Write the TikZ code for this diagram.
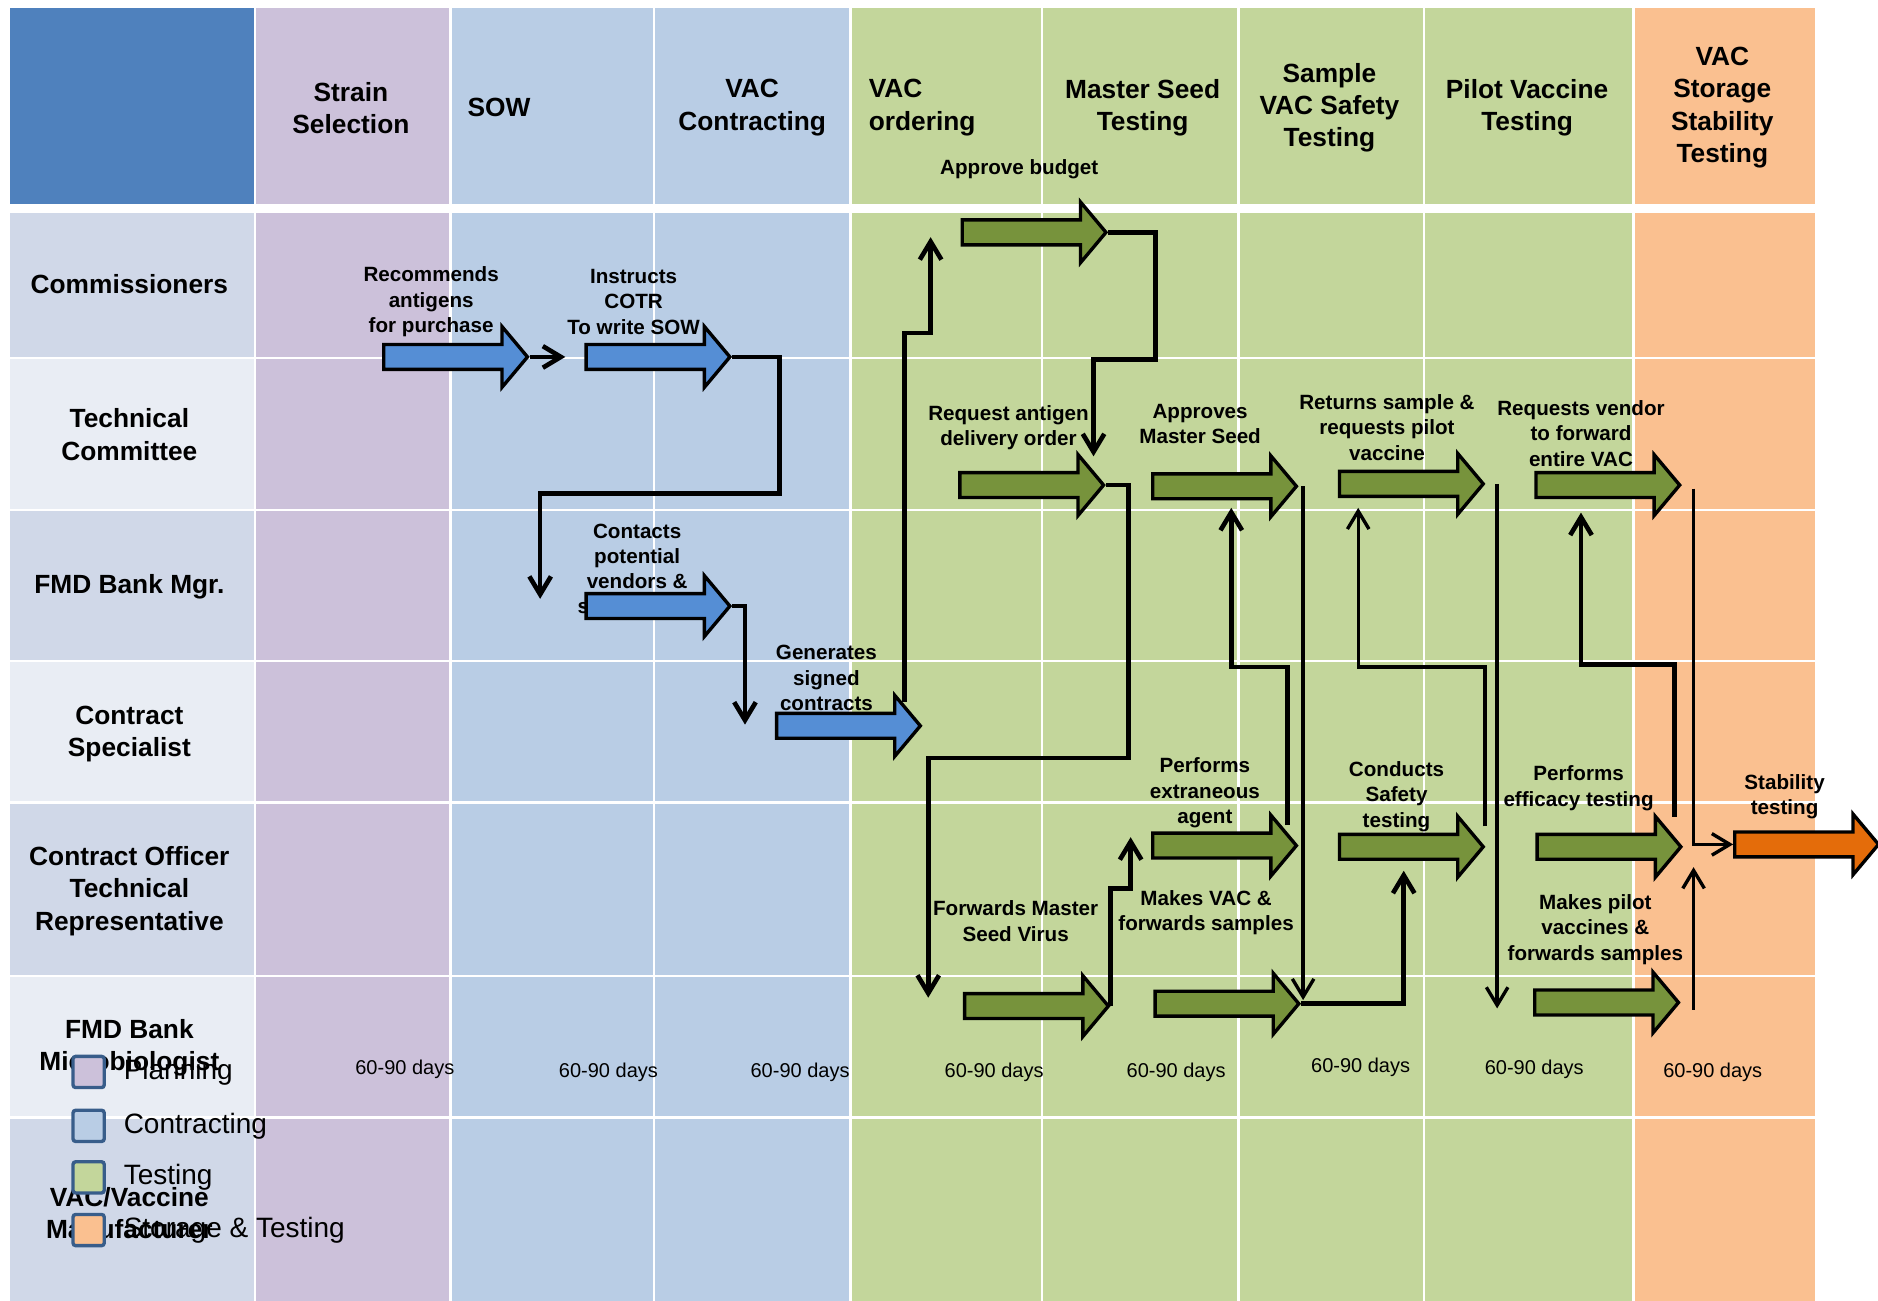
\documentclass[tikz,border=0pt]{standalone}
\usepackage{fontspec}
\setmainfont{Liberation Sans}
\usetikzlibrary{shapes.arrows,arrows.meta}

\definecolor{hdrblue}{HTML}{4F81BD}
\definecolor{plan}{HTML}{CCC1DA}
\definecolor{contr}{HTML}{B9CDE5}
\definecolor{test}{HTML}{C3D69B}
\definecolor{stor}{HTML}{FAC090}
\definecolor{rowdark}{HTML}{D0D8E8}
\definecolor{rowlight}{HTML}{E9EDF4}
\definecolor{arrblue}{HTML}{558ED5}
\definecolor{arrgreen}{HTML}{77933C}
\definecolor{arrorange}{HTML}{E46C0A}
\definecolor{legborder}{HTML}{385D8A}

\tikzset{
  stepbox/.style={single arrow, draw=black, line width=1.6pt, minimum height=24mm,
    inner xsep=0pt, inner ysep=1.8mm, single arrow head extend=3mm,
    single arrow tip angle=100, anchor=tail},
  bluestep/.style={stepbox, fill=arrblue},
  greenstep/.style={stepbox, fill=arrgreen},
  orangestep/.style={stepbox, fill=arrorange},
  conn/.style={line width=2.2pt, -{Straight Barb[length=3mm,width=3.6mm]}},
  thinconn/.style={conn, line width=1.6pt},
  act/.style={font=\bfseries\fontsize{9.8}{12}\selectfont, align=center, inner sep=0pt},
  hdr/.style={font=\bfseries\fontsize{12.5}{15.4}\selectfont, align=center, inner sep=0pt},
  days/.style={font=\fontsize{9.5}{11}\selectfont, inner sep=0pt},
  legbox/.style={draw=legborder, line width=1.6pt, rounded corners=1.2pt, minimum size=5.2mm, inner sep=0pt},
  legtext/.style={font=\fontsize{13.3}{16}\selectfont, anchor=west, inner sep=0pt}
}

\begin{document}
\begin{tikzpicture}[x=0.2mm, y=-0.2mm]
\useasboundingbox (0,0) rectangle (1568,1086);

% phase columns
\foreach \xa/\xb/\col in {214/375/plan, 377/545/contr, 547/709/contr, 711/869/test,
  871/1033/test, 1035/1188/test, 1190/1363/test, 1365/1515/stor}
{
    \foreach \ya/\yb in {7/170, 178/298, 300/425, 427/551, 553/669, 671/814, 816/932, 934/1086}
        \fill[\col] (\xa,\ya) rectangle (\xb,\yb);
}
% role column
\fill[hdrblue] (8,7) rectangle (212,170);
\foreach \ya/\yb/\col in {178/298/rowdark, 300/425/rowlight, 427/551/rowdark, 553/669/rowlight,
  671/814/rowdark, 816/932/rowlight, 934/1086/rowdark}
    \fill[\col] (8,\ya) rectangle (212,\yb);

% phase titles
\node[hdr] (hstrain) at (293,90) {Strain\\Selection};
\node[hdr, anchor=west, align=left] (hsow) at (390,90) {SOW};
\node[hdr] (hcontract) at (628,90) {VAC\\Contracting};
\node[hdr, anchor=west, align=left] (horder) at (725,90) {VAC\\ordering};
\node[hdr] (hseed) at (954,90) {Master Seed\\Testing};
\node[hdr] (hsafety) at (1110,90) {Sample\\VAC Safety\\Testing};
\node[hdr] (hpilot) at (1275,90) {Pilot Vaccine\\Testing};
\node[hdr] (hstorage) at (1438,90) {VAC\\Storage\\Stability\\Testing};

% roles
\node[hdr] (rcomm) at (108,237) {Commissioners};
\node[hdr] (rtech) at (108,363) {Technical\\Committee};
\node[hdr] (rbank) at (108,490) {FMD Bank Mgr.};
\node[hdr] (rspec) at (108,613) {Contract\\Specialist};
\node[hdr] (rcotr) at (108,744) {Contract Officer\\Technical\\Representative};
\node[hdr] (rmicro) at (108,875) {FMD Bank\\Microbiologist};
\node[hdr] (rvac) at (108,1013) {VAC/Vaccine\\Manufacturer};

% durations
\foreach \x/\y [count=\i] in {338/893, 508/895, 668/895, 830/895, 982/895, 1136/891, 1281/893, 1430/895}
    \node[days] (d\i) at (\x,\y) {60-90 days};

% step labels
\node[act] (trecommend) at (360,252) {Recommends\\antigens\\for purchase};
\node[act] (tinstruct) at (529,252) {Instructs\\COTR\\To write SOW};
\node[act] (tcontact) at (532,475) {Contacts\\potential\\vendors \&\\solicits bids};
\node[act] (tgenerate) at (690,566) {Generates\\signed\\contracts};
\node[act] (tbudget) at (851,141) {Approve budget};
\node[act] (tdelivery) at (842,357) {Request antigen\\delivery order};
\node[act] (tforward) at (848,769) {Forwards Master\\Seed Virus};
\node[act] (tapprove) at (1002,354) {Approves\\Master Seed};
\node[act] (textraneous) at (1006,662) {Performs\\extraneous\\agent};
\node[act] (tmakevac) at (1007,762) {Makes VAC \&\\forwards samples};
\node[act] (treturns) at (1158,357) {Returns sample \&\\requests pilot\\vaccine};
\node[act] (tsafety) at (1166,665) {Conducts\\Safety\\testing};
\node[act] (tvendor) at (1320,362) {Requests vendor\\to forward\\entire VAC};
\node[act] (tefficacy) at (1318,658) {Performs\\efficacy testing};
\node[act] (tmakepilot) at (1332,776) {Makes pilot\\vaccines \&\\forwards samples};
\node[act] (tstability) at (1490,665) {Stability\\testing};

% steps
\node[bluestep] (recommend) at (319,298) {};
\node[bluestep] (instruct) at (488,298) {};
\node[bluestep] (contact) at (488,506) {};
\node[bluestep] (generate) at (647,606) {};
\node[greenstep] (budget) at (802,194) {};
\node[greenstep] (delivery) at (800,405) {};
\node[greenstep] (forward) at (804,840) {};
\node[greenstep] (approve) at (961,406) {};
\node[greenstep] (extraneous) at (961,706) {};
\node[greenstep] (makevac) at (963,838) {};
\node[greenstep] (returns) at (1117,404) {};
\node[greenstep] (safety) at (1117,707) {};
\node[greenstep] (vendor) at (1281,405) {};
\node[greenstep] (efficacy) at (1282,707) {};
\node[greenstep] (makepilot) at (1280,837) {};
\node[orangestep] (stability) at (1447,705) {};

% connector ends
\coordinate (e1) at (472,298);
\coordinate (e2) at (451,500);
\coordinate (e3) at (622,605);
\coordinate (s4) at (755,586);
\coordinate (e4) at (777,198);
\coordinate (e5) at (913,381);
\coordinate (e6) at (775,833);
\coordinate (e7) at (944,699);
\coordinate (s8) at (1075,689);
\coordinate (e8) at (1028,424);
\coordinate (e9) at (1088,835);
\coordinate (e10) at (1172,727);
\coordinate (s11) at (1240,690);
\coordinate (e11) at (1134,424);
\coordinate (e12) at (1250,842);
\coordinate (s13) at (1398,682);
\coordinate (e13) at (1320,428);
\coordinate (s14) at (1414,408);
\coordinate (s15) at (1414,843);
\coordinate (e15) at (1414,724);

\draw[conn] (recommend.tip) -- (e1);
\draw[conn] (instruct.tip) -| (651,412) -| (e2);
\draw[conn] (contact.tip) -| (e3);
\draw[conn] (s4) |- (777,278) -- (e4);
\draw[conn] (budget.tip) -| (965,300) -| (e5);
\draw[conn] (delivery.tip) -| (942,633) -| (e6);
\draw[conn] (forward.tip) |- (944,742) -- (e7);
\draw[conn] (s8) |- (1028,557) -- (e8);
\draw[thinconn] (e9 |- approve.tip) -- (e9);
\draw[conn] (makevac.tip) -| (e10);
\draw[thinconn] (s11) |- (1134,557) -- (e11);
\draw[thinconn] (e12 |- returns.tip) -- (e12);
\draw[conn] (s13) |- (1320,555) -- (e13);
\draw[thinconn] (s14) |- (stability.tail);
\draw[thinconn] (s15) -- (e15);

% legend
\node[legbox, fill=plan] (kplan) at (74,895) {};
\node[legbox, fill=contr] (kcontr) at (74,940) {};
\node[legbox, fill=test] (ktest) at (74,983) {};
\node[legbox, fill=stor] (kstor) at (74,1027) {};
\node[legtext] (lplan) at (103,895) {Planning};
\node[legtext] (lcontr) at (103,940) {Contracting};
\node[legtext] (ltest) at (103,983) {Testing};
\node[legtext] (lstor) at (103,1027) {Storage \& Testing};

\end{tikzpicture}
\end{document}
